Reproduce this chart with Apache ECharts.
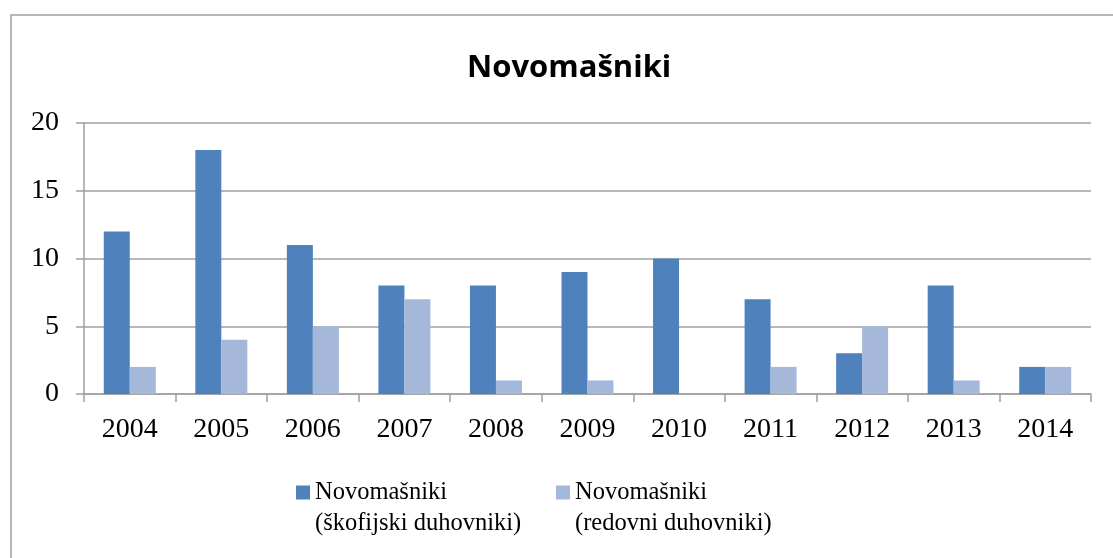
<!DOCTYPE html>
<html><head><meta charset="utf-8">
<script src="https://cdn.jsdelivr.net/npm/echarts@6/dist/echarts.min.js"></script>
<style>html,body{margin:0;padding:0;background:#fff}#c{width:1113px;height:558px}</style>
</head><body><div id="c"></div>
<script>
const categories = ['2004','2005','2006','2007','2008','2009','2010','2011','2012','2013','2014'];
const skofijski = [12,18,11,8,8,9,10,7,3,8,2];
const redovni = [2,4,5,7,1,1,0,2,5,1,2];
const seriesNames = ['Novomašniki\n(škofijski duhovniki)','Novomašniki\n(redovni duhovniki)'];
const yTicks = [0,5,10,15,20];

const serif = '"Liberation Serif", serif';
const chart = echarts.init(document.getElementById('c'));
const legendText = {fontFamily: serif, fontSize: 24.5, color:'#000', lineHeight: 31};
const legendFmt = name => '\n' + name;
chart.setOption({
  animation:false,
  graphic:[{type:'rect', shape:{x:11,y:15,width:1200,height:700}, style:{fill:'none', stroke:'#a0a0a0', lineWidth:1.5}, silent:true}],
  title:{text:'Novomašniki', left:462, top:48, textStyle:{fontFamily:'"Open Sans", sans-serif', fontWeight:'bold', fontSize:31, color:'#000'}},
  grid:{left:84, right:22, top:123, bottom:164},
  legend:[
    {data:[seriesNames[0]], left:296, top:446, padding:0, itemWidth:14, itemHeight:14, icon:'rect', formatter:legendFmt, textStyle:legendText},
    {data:[seriesNames[1]], left:556, top:446, padding:0, itemWidth:14, itemHeight:14, icon:'rect', formatter:legendFmt, textStyle:legendText}
  ],
  xAxis:{type:'category', data:categories,
    axisLine:{lineStyle:{color:'#a0a0a0', width:1.5}},
    axisTick:{show:true, length:8, lineStyle:{color:'#a0a0a0', width:1.5}},
    axisLabel:{color:'#000', fontFamily:serif, fontSize:28, margin:22}},
  yAxis:{type:'value', min:0, max:20, interval:5,
    axisLine:{show:true, lineStyle:{color:'#a0a0a0', width:1.5}},
    axisTick:{show:true, length:8, lineStyle:{color:'#a0a0a0', width:1.5}},
    splitLine:{lineStyle:{color:'#a0a0a0', width:1.5}},
    axisLabel:{color:'#000', fontFamily:serif, fontSize:28, margin:25}},
  series:[
    {name:seriesNames[0], type:'bar', data:skofijski, barWidth:26, barGap:'0%', itemStyle:{color:'#4f81bd'}},
    {name:seriesNames[1], type:'bar', data:redovni, barWidth:26, barGap:'0%', itemStyle:{color:'#a5b8d9'}}
  ]
});
</script></body></html>
